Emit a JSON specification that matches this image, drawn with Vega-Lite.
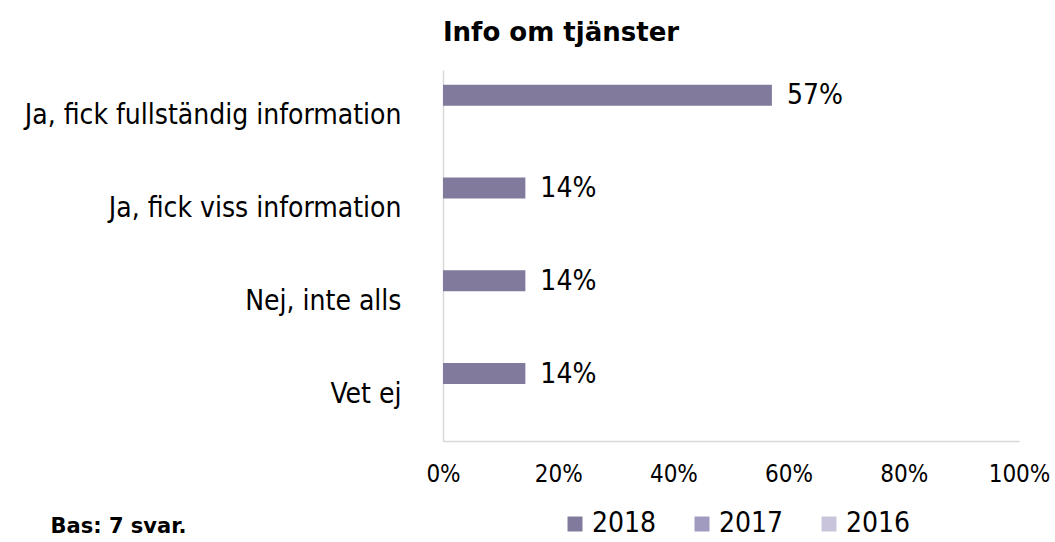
{
  "$schema": "https://vega.github.io/schema/vega-lite/v6.json",
  "width": 576,
  "height": 371,
  "autosize": "none",
  "padding": {"left": 443, "top": 70, "right": 36, "bottom": 101},
  "background": "white",
  "title": {
    "text": "Info om tjänster",
    "font": "DejaVu Sans",
    "fontSize": 26,
    "fontWeight": "bold",
    "color": "#000000",
    "anchor": "middle",
    "dx": -170,
    "offset": 24
  },
  "config": {
    "view": {"stroke": null},
    "font": "DejaVu Sans Condensed"
  },
  "data": {
    "values": [
      {"svar": "Ja, fick fullständig information", "year": "2018", "andel": 0.571},
      {"svar": "Ja, fick viss information", "year": "2018", "andel": 0.143},
      {"svar": "Nej, inte alls", "year": "2018", "andel": 0.143},
      {"svar": "Vet ej", "year": "2018", "andel": 0.143},
      {"svar": "Ja, fick fullständig information", "year": "2017", "andel": null},
      {"svar": "Ja, fick fullständig information", "year": "2016", "andel": null}
    ]
  },
  "encoding": {
    "y": {
      "field": "svar",
      "type": "nominal",
      "sort": ["Ja, fick fullständig information", "Ja, fick viss information", "Nej, inte alls", "Vet ej"],
      "scale": {"paddingInner": 0.32, "paddingOuter": 0.16},
      "axis": {
        "title": null,
        "ticks": false,
        "domainColor": "#D9D9D9",
        "domainWidth": 1.5,
        "labelFontSize": 28,
        "labelColor": "#000000",
        "labelPadding": 42,
        "labelLimit": 500,
        "labelFont": "DejaVu Sans Condensed"
      }
    },
    "yOffset": {
      "field": "year",
      "type": "nominal",
      "scale": {"domain": ["2018", "2017", "2016"], "paddingInner": 0, "paddingOuter": 0}
    },
    "x": {
      "field": "andel",
      "type": "quantitative",
      "scale": {"domain": [0, 1]},
      "axis": {
        "format": ".0%",
        "values": [0, 0.2, 0.4, 0.6, 0.8, 1],
        "grid": false,
        "ticks": false,
        "domainColor": "#D9D9D9",
        "domainWidth": 1.5,
        "labelFontSize": 24,
        "labelColor": "#000000",
        "labelPadding": 21,
        "labelFlush": false,
        "labelFont": "DejaVu Sans Condensed",
        "title": "Bas: 7 svar.",
        "titleFontSize": 21,
        "titleFontWeight": "bold",
        "titleFont": "DejaVu Sans",
        "titleColor": "#000000",
        "titleAlign": "left",
        "titleBaseline": "middle",
        "titleX": -393,
        "titleY": 85
      }
    }
  },
  "layer": [
    {
      "mark": {"type": "bar"},
      "encoding": {
        "color": {
          "field": "year",
          "type": "nominal",
          "scale": {"domain": ["2018", "2017", "2016"], "range": ["#817A9C", "#A29BC0", "#C9C4DC"]},
          "legend": {
            "title": null,
            "orient": "none",
            "direction": "horizontal",
            "legendX": 118,
            "legendY": 440,
            "symbolType": "square",
            "symbolSize": 225,
            "symbolStrokeWidth": 0,
            "labelFontSize": 28,
            "labelFont": "DejaVu Sans Condensed",
            "labelColor": "#000000",
            "labelOffset": 3,
            "columnPadding": 31
          }
        }
      }
    },
    {
      "mark": {"type": "text", "align": "left", "baseline": "middle", "dx": 15, "dy": 1, "fontSize": 28, "font": "DejaVu Sans Condensed", "color": "#000000"},
      "encoding": {
        "text": {"field": "andel", "type": "quantitative", "format": ".0%"}
      }
    }
  ]
}
